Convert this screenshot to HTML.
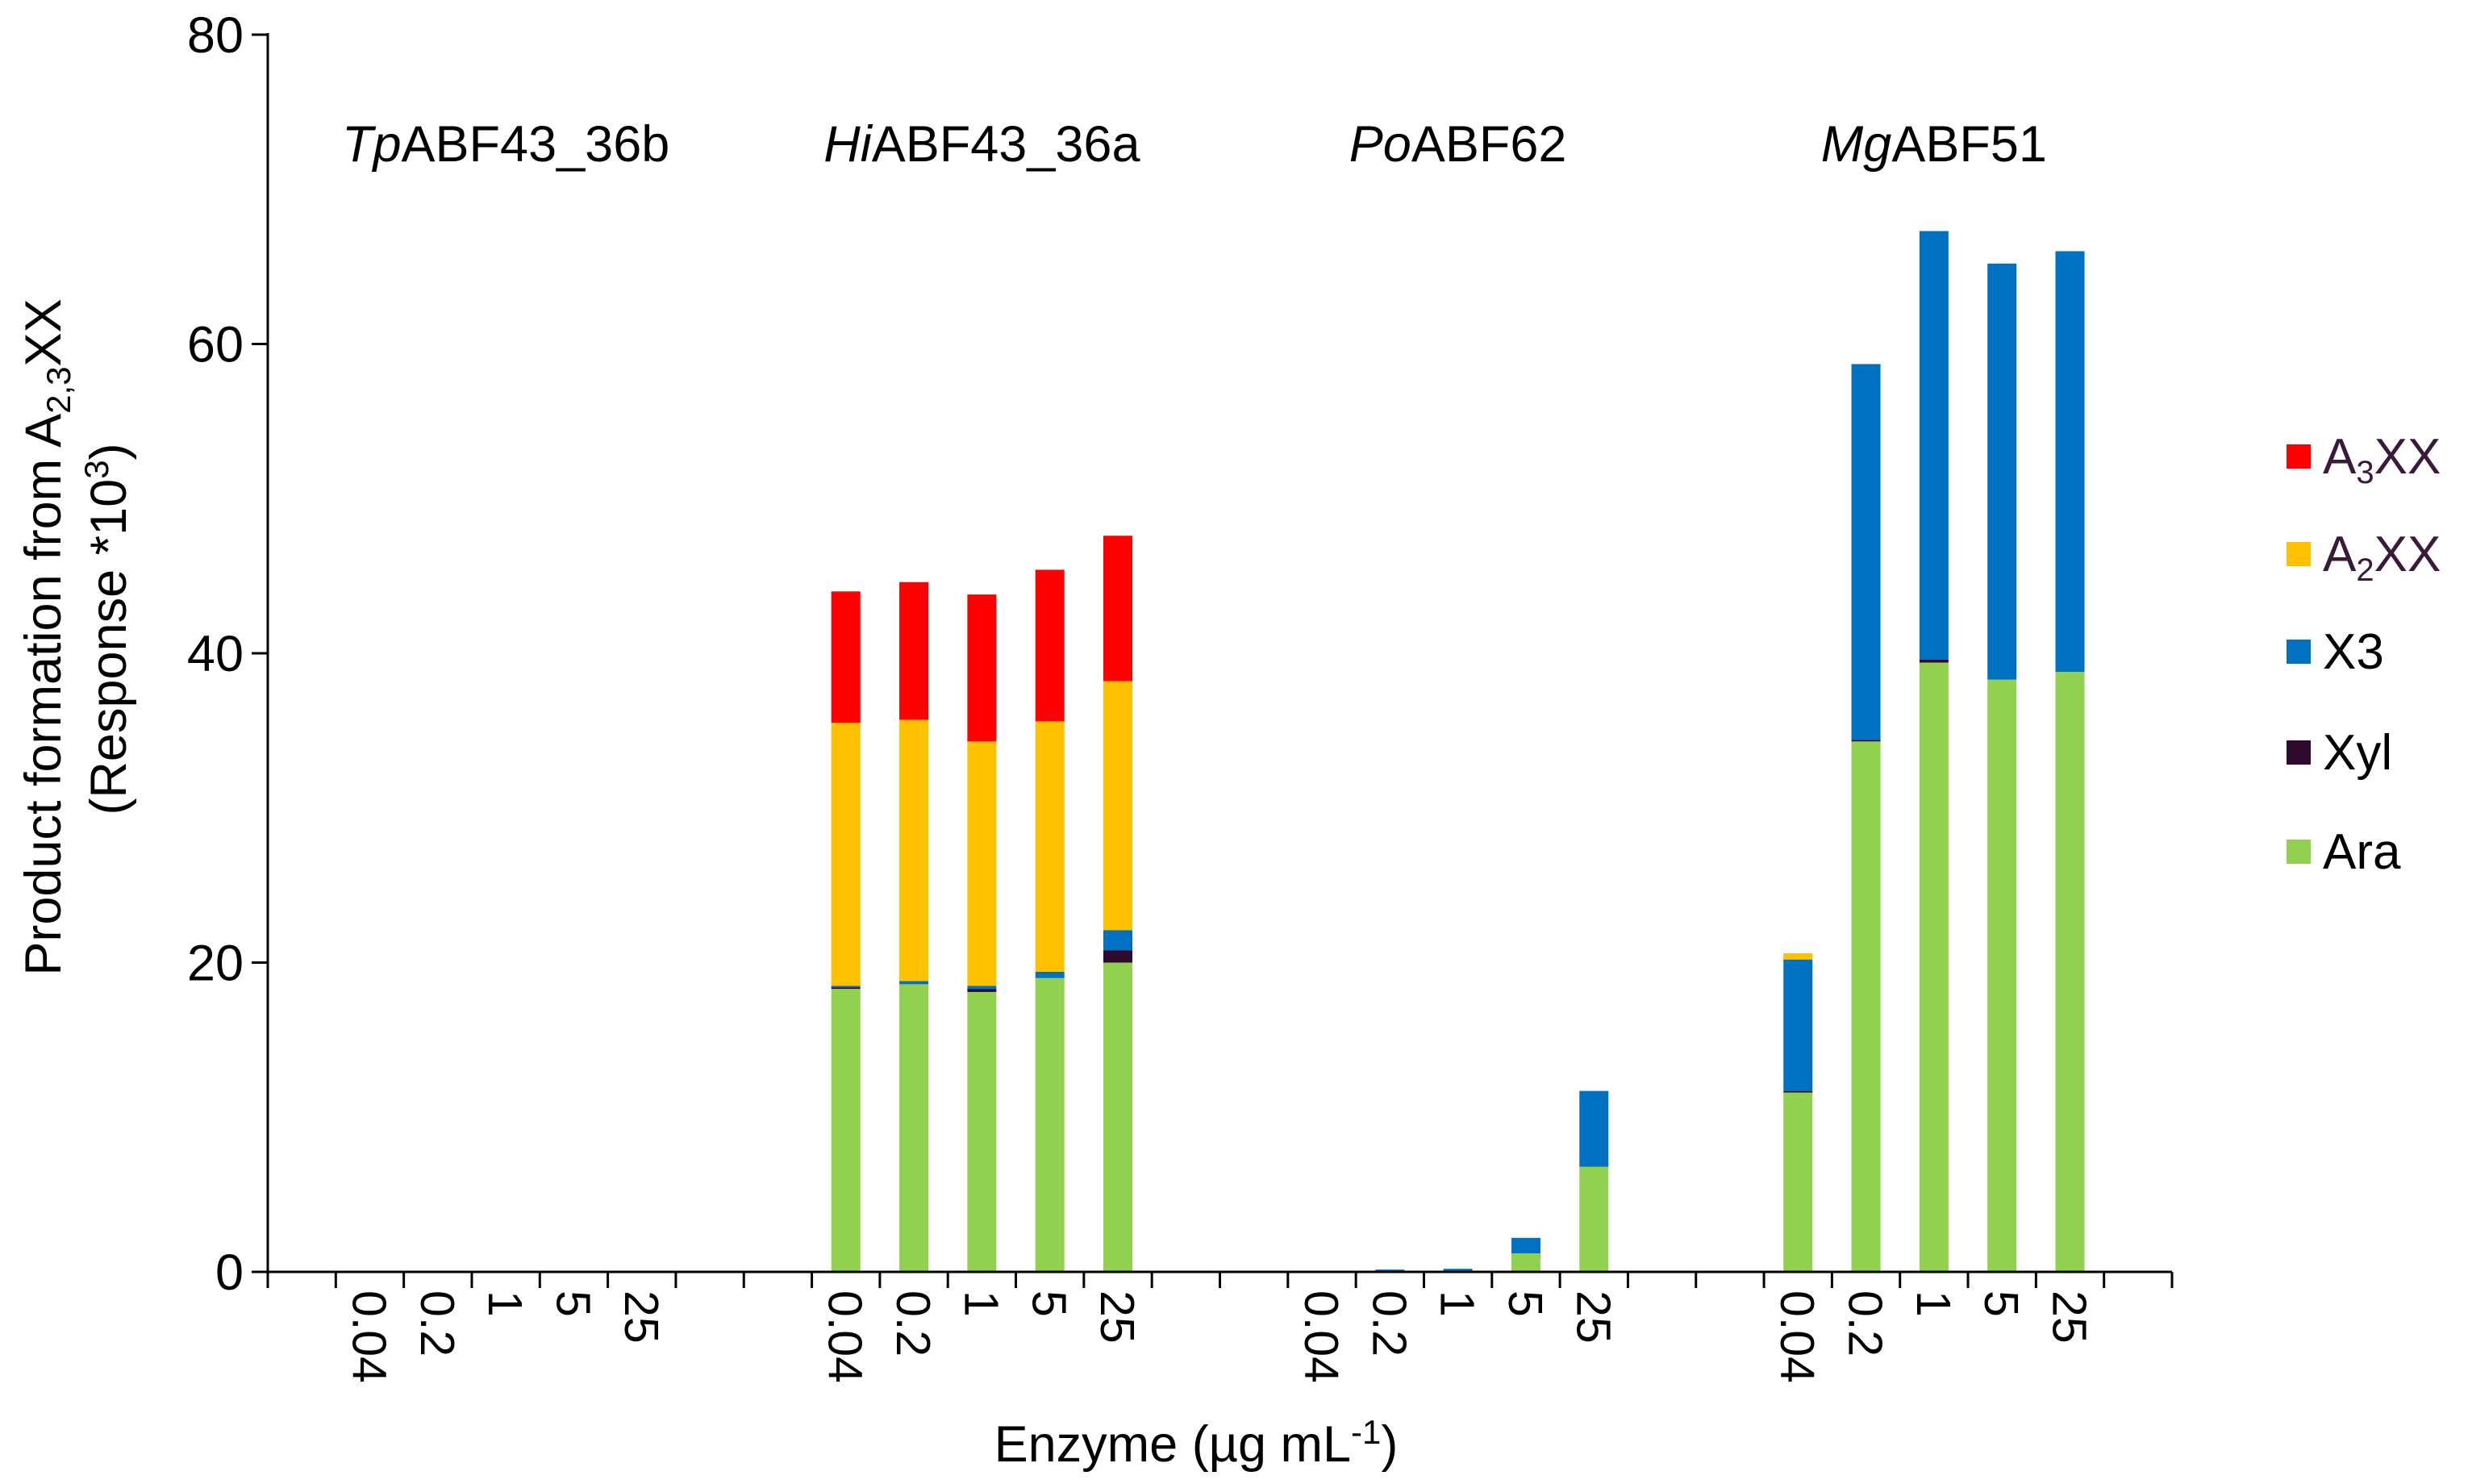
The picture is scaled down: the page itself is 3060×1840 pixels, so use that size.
<!DOCTYPE html>
<html><head><meta charset="utf-8"><style>
html,body{margin:0;padding:0;background:#fff;}
svg{display:block;font-family:"Liberation Sans",Arial,sans-serif;}
</style></head><body>
<svg id="chart" width="3060" height="1840" viewBox="0 0 3060 1840"></svg>
<script>
const categories = ["","0.04","0.2","1","5","25","","","0.04","0.2","1","5","25","","","0.04","0.2","1","5","25","","","0.04","0.2","1","5","25",""];
const seriesNames = ["Ara","Xyl","X3","A2XX","A3XX"];
const seriesColors = ["#92d050","#2e0a2e","#0070c0","#ffc000","#ff0000"];
const ara  = [0,0,0,0,0,0,0,0,18.3,18.6,18.1,19.0,20.0,0,0,0,0,0,1.2,6.8,0,0,11.6,34.3,39.4,38.3,38.8,0];
const xyl  = [0,0,0,0,0,0,0,0,0.1,0,0.2,0,0.8,0,0,0,0,0,0,0,0,0,0.1,0.1,0.2,0,0,0];
const x3   = [0,0,0,0,0,0,0,0,0.1,0.2,0.2,0.4,1.3,0,0,0,0.15,0.2,1.0,4.9,0,0,8.5,24.3,27.7,26.9,27.2,0];
const a2xx = [0,0,0,0,0,0,0,0,17.0,16.9,15.8,16.2,16.1,0,0,0,0,0,0,0,0,0,0.4,0,0,0,0,0];
const a3xx = [0,0,0,0,0,0,0,0,8.5,8.9,9.5,9.8,9.4,0,0,0,0,0,0,0,0,0,0,0,0,0,0,0];
const yTicks = [0,20,40,60,80];
const groupTitles = [["Tp","ABF43_36b"],["Hi","ABF43_36a"],["Po","ABF62"],["Mg","ABF51"]];
const groupCenters = [3,10,17,24];

const NS="http://www.w3.org/2000/svg";
const svg=document.getElementById('chart');
const X0=332, X1=2693, Y0=1577, Y80=43;
const slot=(X1-X0)/categories.length;
const yScale=v=>Y0-(Y0-Y80)*v/80;
const xCenter=i=>X0+slot*(i+0.5);
const barW=36;
function mk(tag,attrs,parent){const e=document.createElementNS(NS,tag);for(const k in attrs)e.setAttribute(k,attrs[k]);(parent||svg).appendChild(e);return e;}

const series=[ara,xyl,x3,a2xx,a3xx];
categories.forEach((c,i)=>{
  let acc=0;
  series.forEach((s,si)=>{
    const v=s[i]; if(!v) return;
    const r=mk('rect',{x:xCenter(i)-barW/2,y:yScale(acc+v),width:barW,height:yScale(acc)-yScale(acc+v),fill:seriesColors[si]});
    
    
    acc+=v;
  });
});

const ya=mk('line',{x1:X0,y1:Y80-2,x2:X0,y2:Y0,stroke:'#000','stroke-width':3});


const xa=mk('line',{x1:X0,y1:Y0,x2:X1,y2:Y0,stroke:'#000','stroke-width':3});


yTicks.forEach(t=>{
  const y=yScale(t);
  const l=mk('line',{x1:X0-20,y1:y,x2:X0,y2:y,stroke:'#000','stroke-width':3});
  
  
  const tx=mk('text',{x:X0-30,y:y+22,'text-anchor':'end','font-size':63,fill:'#000'});
  tx.textContent=t;
  
  
});
for(let i=0;i<=categories.length;i++){
  const x=X0+slot*i;
  const l=mk('line',{x1:x,y1:Y0,x2:x,y2:Y0+20,stroke:'#000','stroke-width':3});
  
  
}
categories.forEach((c,i)=>{
  if(!c) return;
  const x=xCenter(i);
  const t=mk('text',{x:0,y:0,'font-size':59,fill:'#000',transform:`translate(${x-21},1600) rotate(90)`});
  t.textContent=c;
  
  
});
groupTitles.forEach((g,k)=>{
  const t=mk('text',{x:xCenter(groupCenters[k]),y:200,'text-anchor':'middle','font-size':63,fill:'#000'});
  const a=mk('tspan',{'font-style':'italic'},t);a.textContent=g[0];
  const b=mk('tspan',{},t);b.textContent=g[1];
  
  
});

const legY=[566,687,808,933,1056];
const legOrder=[4,3,2,1,0];
legOrder.forEach((si,k)=>{
  const g=mk('g',{});
  
  
  mk('rect',{x:2835,y:legY[k]-15,width:30,height:30,fill:seriesColors[si]},g);
  const t=mk('text',{x:2880,y:legY[k]+21,'font-size':62,fill:si>=3?'#3a1a3a':'#000'},g);
  if(si>=3){
    const a=mk('tspan',{},t);a.textContent='A';
    const b=mk('tspan',{'font-size':40,dy:12},t);b.textContent=si==4?'3':'2';
    const c=mk('tspan',{dy:-12},t);c.textContent='XX';
  } else t.textContent=seriesNames[si];
});

const t1=mk('text',{x:0,y:0,'font-size':63,'text-anchor':'middle',transform:'translate(75,790) rotate(-90)'});


t1.innerHTML='Product formation from A<tspan font-size="42" dy="12">2,3</tspan><tspan dy="-12">XX</tspan>';
const t2=mk('text',{x:0,y:0,'font-size':63,'text-anchor':'middle',transform:'translate(156,780) rotate(-90)'});


t2.innerHTML='(Response *10<tspan font-size="42" dy="-22">3</tspan><tspan dy="22">)</tspan>';
const t3=mk('text',{x:1483,y:1812,'font-size':63,'text-anchor':'middle'});


t3.innerHTML='Enzyme (µg mL<tspan font-size="42" dy="-22">-1</tspan><tspan dy="22">)</tspan>';
</script>
</body></html>
